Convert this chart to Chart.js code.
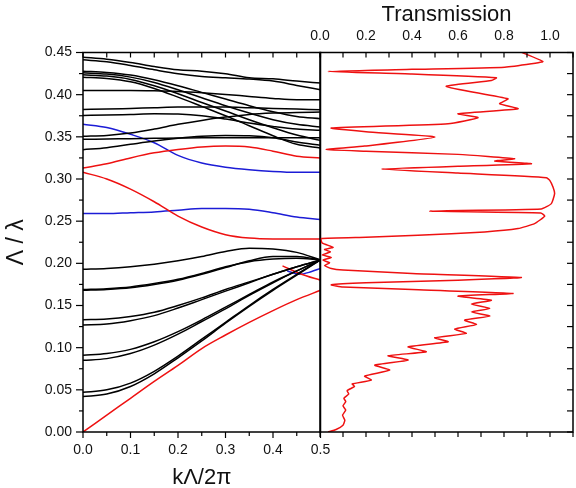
<!DOCTYPE html>
<html>
<head>
<meta charset="utf-8">
<script src="https://cdn.jsdelivr.net/npm/chart.js@4.4.1/dist/chart.umd.min.js"></script>
<style>
  html, body { margin: 0; padding: 0; background: #fff; }
  #wrap { position: relative; width: 576px; height: 488px; }
  #bandChart { position: absolute; left: 0; top: 0; }
  #transChart { position: absolute; left: 300px; top: 0; }
</style>
</head>
<body>
<div id="wrap">
  <canvas id="bandChart" width="330" height="488"></canvas>
  <canvas id="transChart" width="276" height="488"></canvas>
</div>
<script>
// k values (kΛ/2π) where each band is sampled
var kSteps = [0, 0.05, 0.1, 0.15, 0.2, 0.25, 0.3, 0.35, 0.4, 0.45, 0.5];

// black bands, upper bundle
var bandU1 = [0.4445, 0.4421, 0.4382, 0.4334, 0.4295, 0.4279, 0.4248, 0.4200, 0.4188, 0.4161, 0.4137];
var bandU2 = [0.4413, 0.4390, 0.4346, 0.4295, 0.4248, 0.4216, 0.4200, 0.4185, 0.4161, 0.4110, 0.4058];
var bandB1 = [0.4279, 0.4263, 0.4232, 0.4177, 0.4106, 0.4027, 0.3948, 0.3869, 0.3798, 0.3742, 0.3715];
var bandB2 = [0.4259, 0.4244, 0.4208, 0.4145, 0.4058, 0.3963, 0.3869, 0.3782, 0.3703, 0.3648, 0.3616];
var bandB3 = [0.4236, 0.4220, 0.4181, 0.4106, 0.4011, 0.3908, 0.3806, 0.3703, 0.3608, 0.3521, 0.3458];
var bandB4 = [0.4208, 0.4192, 0.4153, 0.4074, 0.3971, 0.3861, 0.3750, 0.3632, 0.3513, 0.3411, 0.3367];
var bandF1 = [0.4050, 0.4050, 0.4050, 0.4046, 0.4038, 0.4023, 0.4003, 0.3979, 0.3956, 0.3940, 0.3940];
var bandF2 = [0.3825, 0.3829, 0.3837, 0.3845, 0.3853, 0.3853, 0.3853, 0.3845, 0.3837, 0.3829, 0.3821];
var bandF3 = [0.3754, 0.3758, 0.3766, 0.3774, 0.3770, 0.3750, 0.3711, 0.3663, 0.3624, 0.3592, 0.3577];
var bandR1 = [0.3506, 0.3517, 0.3545, 0.3592, 0.3648, 0.3695, 0.3734, 0.3766, 0.3782, 0.3790, 0.3794];
var bandR2 = [0.3470, 0.3474, 0.3478, 0.3482, 0.3486, 0.3490, 0.3490, 0.3490, 0.3490, 0.3490, 0.3490];
var bandL  = [0.3348, 0.3371, 0.3411, 0.3450, 0.3482, 0.3506, 0.3517, 0.3513, 0.3490, 0.3438, 0.3399];

// black bands, lower fan converging at k = 0.5
var bandA  = [0.193, 0.194, 0.196, 0.199, 0.203, 0.208, 0.214, 0.218, 0.217, 0.213, 0.204];
var bandBa = [0.168, 0.169, 0.171, 0.175, 0.180, 0.187, 0.195, 0.203, 0.208, 0.208, 0.204];
var bandBb = [0.169, 0.170, 0.172, 0.176, 0.181, 0.188, 0.196, 0.202, 0.205, 0.206, 0.204];
var bandC1 = [0.133, 0.134, 0.137, 0.142, 0.150, 0.159, 0.169, 0.178, 0.187, 0.196, 0.204];
var bandC2 = [0.127, 0.128, 0.132, 0.138, 0.147, 0.157, 0.167, 0.177, 0.187, 0.196, 0.204];
var bandD1 = [0.091, 0.093, 0.098, 0.107, 0.119, 0.133, 0.148, 0.163, 0.178, 0.191, 0.204];
var bandD2 = [0.085, 0.087, 0.093, 0.103, 0.116, 0.131, 0.146, 0.162, 0.177, 0.191, 0.204];
var bandE1 = [0.047, 0.050, 0.058, 0.072, 0.090, 0.110, 0.130, 0.150, 0.169, 0.187, 0.204];
var bandE2 = [0.042, 0.045, 0.054, 0.069, 0.088, 0.108, 0.129, 0.149, 0.168, 0.186, 0.204];

// red bands
var redLow  = [0.000, 0.020, 0.040, 0.060, 0.079, 0.099, 0.115, 0.130, 0.144, 0.157, 0.168];
var redMid  = [0.308, 0.300, 0.288, 0.273, 0.256, 0.243, 0.234, 0.230, 0.229, 0.229, 0.229];
var redHigh = [0.313, 0.318, 0.325, 0.331, 0.335, 0.338, 0.339, 0.338, 0.333, 0.327, 0.325];
var redShortK = [0.42, 0.46, 0.5];
var redShortF = [0.197, 0.187, 0.180];

// blue bands
var blueLow  = [0.259, 0.259, 0.260, 0.261, 0.263, 0.265, 0.265, 0.264, 0.260, 0.255, 0.252];
var blueHigh = [0.365, 0.361, 0.353, 0.343, 0.328, 0.319, 0.314, 0.311, 0.309, 0.308, 0.308];
var blueShortK = [0.43, 0.455, 0.48, 0.5];
var blueShortF = [0.191, 0.187, 0.190, 0.194];

// transmission spectrum: T against Λ/λ
var transT = [0.035, 0.07, 0.10, 0.108, 0.098, 0.112, 0.100, 0.112, 0.104, 0.125, 0.118, 0.150, 0.140,
  0.223, 0.194, 0.303, 0.238, 0.383, 0.296, 0.462, 0.383, 0.557, 0.499, 0.636, 0.586, 0.680, 0.629,
  0.738, 0.658, 0.738, 0.658, 0.745, 0.60, 0.839, 0.40, 0.10, 0.049, 0.20, 0.60, 0.875, 0.40, 0.10,
  0.049, 0.02, 0.042, 0.013, 0.049, 0.010, 0.045, 0.020, 0.057, 0.010, 0.004, 0.20, 0.426, 0.716,
  0.861, 0.933, 0.977, 0.960, 0.477, 0.962, 1.006, 1.020, 1.013, 0.999, 0.984, 0.60, 0.267, 0.60,
  0.919, 0.760, 0.846, 0.600, 0.20, 0.027, 0.194, 0.499, 0.20, 0.049, 0.557, 0.687, 0.600, 0.861,
  0.781, 0.817, 0.549, 0.745, 0.767, 0.40, 0.035, 0.40, 0.803, 0.919, 0.969, 0.875];
var transF = [0.000, 0.003, 0.008, 0.014, 0.020, 0.026, 0.031, 0.036, 0.040, 0.045, 0.049, 0.054, 0.057,
  0.0616, 0.0663, 0.0734, 0.0793, 0.0853, 0.0904, 0.0951, 0.1010, 0.1070, 0.1117, 0.1169, 0.1220, 0.1275, 0.1326,
  0.1374, 0.1425, 0.1465, 0.1516, 0.1563, 0.1611, 0.1643, 0.169, 0.172, 0.1745, 0.177, 0.180, 0.1832, 0.188, 0.192,
  0.1938, 0.1975, 0.2005, 0.2037, 0.2069, 0.2100, 0.2135, 0.2165, 0.2190, 0.224, 0.2294, 0.231, 0.2333, 0.2372,
  0.2412, 0.2471, 0.2560, 0.2598, 0.2620, 0.2645, 0.2708, 0.2827, 0.2905, 0.2984, 0.3016, 0.307, 0.3118, 0.3150,
  0.3181, 0.3213, 0.3241, 0.3292, 0.333, 0.3348, 0.3390, 0.3497, 0.356, 0.3604, 0.3656, 0.3727, 0.3774, 0.3833,
  0.3892, 0.3951, 0.4098, 0.4169, 0.4200, 0.4245, 0.4275, 0.4300, 0.4326, 0.4366, 0.4394, 0.4504];

var FONT = "'Liberation Sans', Arial, sans-serif";
var TEXT = "#111";
Chart.defaults.font.family = FONT;
Chart.defaults.color = TEXT;

function pairUp(xs, ys) {
  return xs.map(function (x, i) { return { x: x, y: ys[i] }; });
}

function bandSet(values, color) {
  return {
    data: pairUp(kSteps, values),
    borderColor: color,
    borderWidth: 1.5,
    pointRadius: 0,
    fill: false,
    cubicInterpolationMode: "monotone"
  };
}

// fixed axis box size, no extra room for edge labels
function fixSize(w, h) {
  return function (s) {
    if (w !== null) s.width = w;
    if (h !== null) s.height = h;
    s.paddingLeft = 0; s.paddingRight = 0;
    s.paddingTop = 0; s.paddingBottom = 0;
  };
}

// frame + tick marks drawn against the chart's own scales
function frameTicks(specs) {
  return {
    id: "frameTicks",
    afterDraw: function (chart) {
      var ctx = chart.ctx, a = chart.chartArea;
      ctx.save();
      ctx.strokeStyle = "#000";
      ctx.lineWidth = 1.2;
      specs.forEach(function (sp) {
        var sc = chart.scales[sp.scale];
        for (var i = 0; ; i++) {
          var v = sp.from + i * sp.step;
          if (v > sp.to + 1e-9) break;
          var isMajor = sp.major ? Math.abs(v / sp.major - Math.round(v / sp.major)) < 1e-6 : true;
          var len = isMajor ? sp.len : sp.minorLen;
          var sign = sp.dir === "out" ? 1 : -1;
          ctx.beginPath();
          if (sp.edge === "left" || sp.edge === "right") {
            var py = sc.getPixelForValue(v);
            var x0 = sp.edge === "left" ? a.left : a.right;
            var dx = sp.edge === "left" ? -len * sign : len * sign;
            ctx.moveTo(x0, py);
            ctx.lineTo(x0 + dx, py);
          } else {
            var px = sc.getPixelForValue(v);
            var y0 = sp.edge === "top" ? a.top : a.bottom;
            var dy = sp.edge === "top" ? -len * sign : len * sign;
            ctx.moveTo(px, y0);
            ctx.lineTo(px, y0 + dy);
          }
          ctx.stroke();
        }
      });
      ctx.lineWidth = 1.5;
      ctx.strokeRect(a.left, a.top, a.right - a.left, a.bottom - a.top);
      ctx.restore();
    }
  };
}

var BLACK = "#000000", RED = "#ee1111", BLUE = "#1c1cd6";

var blackBands = [bandU1, bandU2, bandB1, bandB2, bandB3, bandB4, bandF1, bandF2, bandF3, bandR1, bandR2, bandL,
  bandA, bandBa, bandBb, bandC1, bandC2, bandD1, bandD2, bandE1, bandE2];

var bandSets = blackBands.map(function (b) { return bandSet(b, BLACK); });
bandSets.push(bandSet(redLow, RED), bandSet(redMid, RED), bandSet(redHigh, RED));
bandSets.push(bandSet(blueLow, BLUE), bandSet(blueHigh, BLUE));
bandSets.push({
  data: pairUp(redShortK, redShortF), borderColor: RED, borderWidth: 1.5, pointRadius: 0,
  fill: false, cubicInterpolationMode: "monotone"
});
bandSets.push({
  data: pairUp(blueShortK, blueShortF), borderColor: BLUE, borderWidth: 1.5, pointRadius: 0,
  fill: false, cubicInterpolationMode: "monotone"
});

new Chart(document.getElementById("bandChart"), {
  type: "line",
  data: { datasets: bandSets },
  options: {
    responsive: false,
    animation: false,
    layout: { padding: { top: 52.5, right: 9.5, left: 0, bottom: 0 } },
    plugins: { legend: { display: false }, tooltip: { enabled: false } },
    scales: {
      x: {
        type: "linear",
        position: "bottom",
        min: 0,
        max: 0.5,
        afterFit: fixSize(null, 56),
        grid: { display: false, drawTicks: false },
        border: { display: false },
        ticks: {
          stepSize: 0.1,
          padding: 10,
          color: TEXT,
          font: { size: 14 },
          callback: function (v) { return v.toFixed(1); }
        },
        title: {
          display: true,
          text: "kΛ/2π",
          color: TEXT,
          font: { size: 22, lineHeight: 0.9 },
          padding: 0
        }
      },
      y: {
        min: 0,
        max: 0.45,
        afterFit: fixSize(83, null),
        grid: { display: false, drawTicks: false },
        border: { display: false },
        ticks: {
          stepSize: 0.05,
          padding: 11,
          color: TEXT,
          font: { size: 14 },
          callback: function (v) { return v.toFixed(2); }
        },
        title: {
          display: true,
          text: "Λ / λ",
          color: TEXT,
          font: { size: 23, lineHeight: 1 },
          padding: { top: 5, bottom: 0 }
        }
      }
    }
  },
  plugins: [frameTicks([
    { scale: "y", edge: "left", dir: "out", from: 0, to: 0.45, step: 0.025, major: 0.05, len: 7, minorLen: 4 },
    { scale: "x", edge: "bottom", dir: "out", from: 0, to: 0.5, step: 0.05, major: 0.1, len: 6, minorLen: 4 },
    { scale: "x", edge: "top", dir: "in", from: 0, to: 0.5, step: 0.05, major: 0, len: 5, minorLen: 5 }
  ])]
});

new Chart(document.getElementById("transChart"), {
  type: "scatter",
  data: {
    datasets: [{
      data: pairUp(transT, transF),
      showLine: true,
      borderColor: RED,
      borderWidth: 1.5,
      pointRadius: 0,
      tension: 0.15,
      fill: false
    }]
  },
  options: {
    responsive: false,
    animation: false,
    layout: { padding: { left: 20, right: 3, top: 0, bottom: 0 } },
    plugins: { legend: { display: false }, tooltip: { enabled: false } },
    scales: {
      x: {
        type: "linear",
        position: "bottom",
        min: 0,
        max: 1.1,
        afterFit: fixSize(null, 56),
        grid: { display: false, drawTicks: false },
        border: { display: false },
        ticks: { display: false }
      },
      x2: {
        type: "linear",
        position: "top",
        min: 0,
        max: 1.1,
        afterFit: fixSize(null, 52.5),
        grid: { display: false, drawTicks: false },
        border: { display: false },
        ticks: {
          stepSize: 0.2,
          includeBounds: false,
          padding: 8,
          color: TEXT,
          font: { size: 14 },
          callback: function (v) { return v.toFixed(1); }
        },
        title: {
          display: true,
          text: "Transmission",
          color: TEXT,
          font: { size: 22, lineHeight: 1 },
          padding: { top: 4, bottom: 0 }
        }
      },
      y: { min: 0, max: 0.45, display: false }
    }
  },
  plugins: [frameTicks([
    { scale: "x2", edge: "top", dir: "in", from: 0, to: 1.1, step: 0.1, major: 0, len: 5, minorLen: 5 },
    { scale: "x", edge: "bottom", dir: "out", from: 0, to: 1.1, step: 0.1, major: 0, len: 5, minorLen: 5 },
    { scale: "y", edge: "right", dir: "in", from: 0, to: 0.45, step: 0.025, major: 0, len: 6, minorLen: 6 }
  ])]
});
</script>
</body>
</html>
